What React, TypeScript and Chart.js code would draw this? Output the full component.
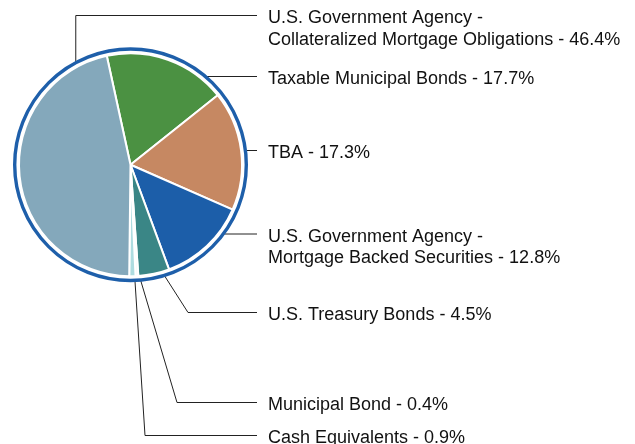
import React, { useEffect, useRef } from 'react';
import { Chart, registerables } from 'chart.js';

Chart.register(...registerables);

// ---- Data ----
const categoryLines: string[][] = [
  ['Taxable Municipal Bonds'],
  ['TBA'],
  ['U.S. Government Agency -', 'Mortgage Backed Securities'],
  ['U.S. Treasury Bonds'],
  ['Municipal Bond'],
  ['Cash Equivalents'],
  ['U.S. Government Agency -', 'Collateralized Mortgage Obligations'],
];
const values = [17.7, 17.3, 12.8, 4.5, 0.4, 0.9, 46.4];
const colors = ['#4B9142', '#C68862', '#1C5EA9', '#3A8686', '#F2F8F9', '#AEDCE0', '#84A8BB'];

// ---- Layout of the callouts (angles in degrees clockwise from top) ----
const leaderAngles = [41, 83, 126, 163, 175, 177.8, -28.2];
const leaderLabelY = [76, 150, 233.5, 312, 402, 435, 15];
const leaderElbowX: (number | null)[] = [null, null, null, 188, 177, 145, null];

const LINE_END_X = 257;
const TEXT_X = 268;

const calloutPlugin = {
  id: 'callouts',
  afterDraw(chart: any) {
    const ctx = chart.ctx as CanvasRenderingContext2D;
    const meta = chart.getDatasetMeta(0);
    const arc0 = meta.data[0] as any;
    const cx = arc0.x;
    const cy = arc0.y;
    const R = arc0.outerRadius;
    const ringR = R + 4.3;

    ctx.save();
    // leader lines
    ctx.strokeStyle = '#222';
    ctx.lineWidth = 1;
    for (let i = 0; i < values.length; i++) {
      const a = (leaderAngles[i] * Math.PI) / 180;
      const x0 = cx + ringR * Math.sin(a);
      const y0 = cy - ringR * Math.cos(a);
      const ly = leaderLabelY[i] + 0.5;
      const ex = leaderElbowX[i] == null ? x0 : (leaderElbowX[i] as number);
      ctx.beginPath();
      ctx.moveTo(x0, y0);
      ctx.lineTo(ex, ly);
      ctx.lineTo(LINE_END_X, ly);
      ctx.stroke();
    }
    // outer ring
    ctx.beginPath();
    ctx.strokeStyle = '#1E5FAA';
    ctx.lineWidth = 3.4;
    ctx.arc(cx, cy, ringR, 0, Math.PI * 2);
    ctx.stroke();

    // labels
    ctx.fillStyle = '#111';
    ctx.font = "18px 'Liberation Sans', Arial, sans-serif";
    ctx.textBaseline = 'middle';
    ctx.textAlign = 'left';
    for (let i = 0; i < values.length; i++) {
      const lines = categoryLines[i].slice();
      lines[lines.length - 1] = lines[lines.length - 1] + ' - ' + values[i].toFixed(1) + '%';
      lines.forEach((t, j) => {
        ctx.fillText(t, TEXT_X, leaderLabelY[i] + 3.5 + j * 21.5);
      });
    }
    ctx.restore();
  },
};

export default function App() {
  const ref = useRef<HTMLCanvasElement>(null);
  useEffect(() => {
    document.body.style.margin = '0';
    const canvas = ref.current!;
    const chart = new Chart(canvas, {
      type: 'pie',
      data: {
        labels: categoryLines.map((l) => l.join(' ')),
        datasets: [
          {
            data: values,
            backgroundColor: colors,
            borderColor: '#ffffff',
            borderWidth: 2,
          },
        ],
      },
      options: {
        responsive: false,
        animation: false,
        rotation: -12.3,
        radius: 111.5,
        layout: { padding: { left: 10, right: 384, top: 40, bottom: 154.5 } },
        plugins: {
          legend: { display: false },
          tooltip: { enabled: false },
        },
      },
      plugins: [calloutPlugin],
    });
    return () => chart.destroy();
  }, []);
  return (
    <div style={{ width: 635, height: 444, background: '#fff' }}>
      <canvas ref={ref} width={635} height={444} style={{ display: 'block' }} />
    </div>
  );
}
